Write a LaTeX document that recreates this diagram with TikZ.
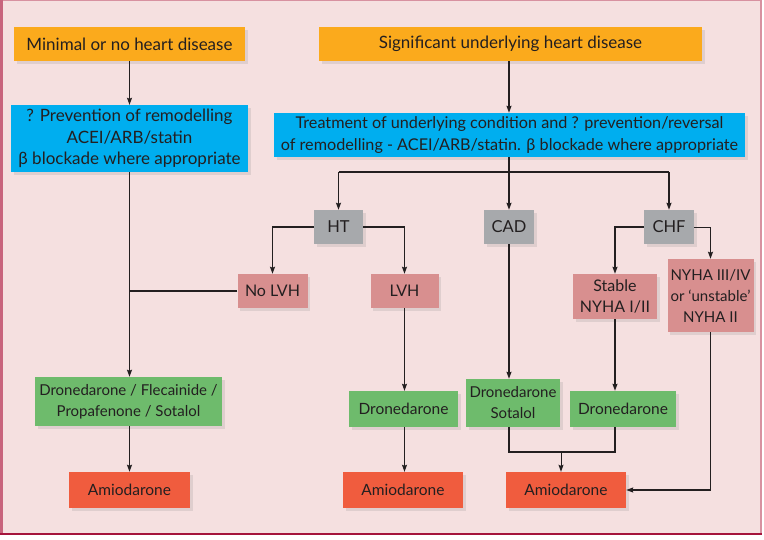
\documentclass[tikz,border=0pt]{standalone}
\usepackage{fontspec}
\setmainfont{Lato}
\usetikzlibrary{arrows.meta,shadows}
\definecolor{bgpink}{RGB}{245,224,224}
\definecolor{borderL}{RGB}{200,100,125}
\definecolor{borderB}{RGB}{165,20,60}
\definecolor{borderT}{RGB}{215,145,160}
\definecolor{orangebox}{RGB}{251,170,28}
\definecolor{bluebox}{RGB}{0,174,239}
\definecolor{graybox}{RGB}{167,169,172}
\definecolor{pinkbox}{RGB}{216,143,143}
\definecolor{greenbox}{RGB}{110,187,108}
\definecolor{redbox}{RGB}{240,92,62}
\definecolor{ink}{RGB}{35,31,32}
\tikzset{
  box/.style={align=center, inner sep=0pt, text=ink,
    font=\fontsize{15.5}{21}\selectfont,
    drop shadow={opacity=0.18, shadow xshift=2.5pt, shadow yshift=-2.5pt}},
  orangeb/.style={box, fill=orangebox, font=\fontsize{17}{21}\selectfont},
  blueb/.style={box, fill=bluebox},
  grayb/.style={box, fill=graybox, font=\fontsize{16.5}{21}\selectfont},
  pinkb/.style={box, fill=pinkbox, font=\fontsize{16}{21}\selectfont},
  greenb/.style={box, fill=greenbox},
  redb/.style={box, fill=redbox},
  thickcon/.style={draw=ink, line width=1.8pt},
  thincon/.style={draw=ink, line width=1pt},
  arr/.style={-{Stealth[length=7pt,width=5pt,inset=1pt]}},
}
\begin{document}
\begin{tikzpicture}[x=1pt,y=-1pt]
\useasboundingbox (0,0) rectangle (764,539);
% background and border
\fill[white] (0,0) rectangle (764,539);
\fill[bgpink] (0,0) rectangle (762,535);
\draw[borderT, line width=1pt] (0,0.5) -- (762,0.5);
\draw[borderL, line width=3pt] (1.5,0) -- (1.5,535);
\draw[borderT, line width=1.5pt] (761,0) -- (761,535);
\draw[borderB, line width=2.5pt] (0,534) -- (762,534);

% nodes
\node[orangeb, minimum width=231, minimum height=34] (o1) at (129.5,44) {Minimal or no heart disease};
\node[orangeb, minimum width=383, minimum height=34] (o2) at (510.5,44) {Significant underlying heart disease};
\node[blueb, font=\fontsize{17}{21.5}\selectfont, minimum width=237, minimum height=67] (b1) at (129.5,138.5) {? Prevention of remodelling\\ACEI/ARB/statin\\β blockade where appropriate};
\node[blueb, font=\fontsize{16.2}{22}\selectfont, minimum width=471, minimum height=44] (b2) at (509.5,135) {Treatment of underlying condition and ? prevention/reversal\\of remodelling - ACEI/ARB/statin. β blockade where appropriate};
\node[grayb, minimum width=49, minimum height=34] (ht) at (338.5,227) {HT};
\node[grayb, minimum width=50, minimum height=34] (cad) at (509,227) {CAD};
\node[grayb, minimum width=50, minimum height=34] (chf) at (669,227) {CHF};
\node[pinkb, minimum width=70, minimum height=34] (nolvh) at (272.5,291) {No LVH};
\node[pinkb, minimum width=68, minimum height=34] (lvh) at (404.5,291) {LVH};
\node[pinkb, minimum width=84, minimum height=45] (stable) at (615,296.5) {Stable\\NYHA I/II};
\node[pinkb, font=\fontsize{15}{21}\selectfont, minimum width=86, minimum height=73] (nyha) at (710.5,295.5) {NYHA III/IV\\or ‘unstable’\\NYHA II};
\node[greenb, font=\fontsize{15}{21}\selectfont, minimum width=187, minimum height=49] (g1) at (128.5,401.5) {Dronedarone / Flecainide /\\Propafenone / Sotalol};
\node[greenb, minimum width=109, minimum height=36] (g2) at (403.5,409) {Dronedarone};
\node[greenb, font=\fontsize{15}{21}\selectfont, minimum width=94, minimum height=48] (g3) at (513,403) {Dronedarone\\Sotalol};
\node[greenb, minimum width=106, minimum height=36] (g4) at (623,409) {Dronedarone};
\node[redb, minimum width=121, minimum height=36] (a1) at (129.5,490) {Amiodarone};
\node[redb, minimum width=120, minimum height=36] (a2) at (403,490) {Amiodarone};
\node[redb, minimum width=120, minimum height=36] (a3) at (566,490) {Amiodarone};

\coordinate (hy) at (0,172);
\coordinate (my) at (0,452);
\coordinate (mid) at (561,452);

% connectors
\draw[thincon, arr] (o1.south) -- (b1.north);
\draw[thickcon, arr] (o2.south -| cad.north) -- (b2.north -| cad.north);
\draw[thickcon, arr] (b1.south) -- (b1.south |- g1.north);
\draw[thickcon] (nolvh.west) -- (nolvh.west -| b1.south);
\draw[thickcon, arr] (g1.south -| b1.south) -- (a1.north -| b1.south);

\draw[thickcon] (b2.south -| cad.north) -- (cad.north |- hy);
\draw[thickcon] (ht.north |- hy) -- (chf.north |- hy);
\draw[thickcon, arr] (ht.north |- hy) -- (ht.north);
\draw[thickcon, arr] (cad.north |- hy) -- (cad.north);
\draw[thickcon, arr] (chf.north |- hy) -- (chf.north);

\draw[thickcon, arr] (ht.west) -| (nolvh.north);
\draw[thickcon, arr] (ht.east) -| (lvh.north);
\draw[thincon, arr] (lvh.south) -- (lvh.south |- g2.north);
\draw[thincon, arr] (g2.south -| lvh.south) -- (a2.north -| lvh.south);

\draw[thickcon, arr] (cad.south) -- (cad.south |- g3.north);
\draw[thickcon, arr] (chf.west) -| (stable.north);
\draw[thincon] (chf.east) -- (chf.east -| nyha.north);
\draw[thickcon, arr] (chf.east -| nyha.north) -- (nyha.north);
\draw[thickcon, arr] (stable.south) -- (stable.south |- g4.north);

\draw[thickcon] (cad.south |- g3.south) -- (cad.south |- my) -- (stable.south |- my) -- (stable.south |- g4.south);
\draw[thincon, arr] (mid) -- (mid |- a3.north);
\draw[thickcon, arr] (nyha.south) |- (a3.east);
\end{tikzpicture}
\end{document}
